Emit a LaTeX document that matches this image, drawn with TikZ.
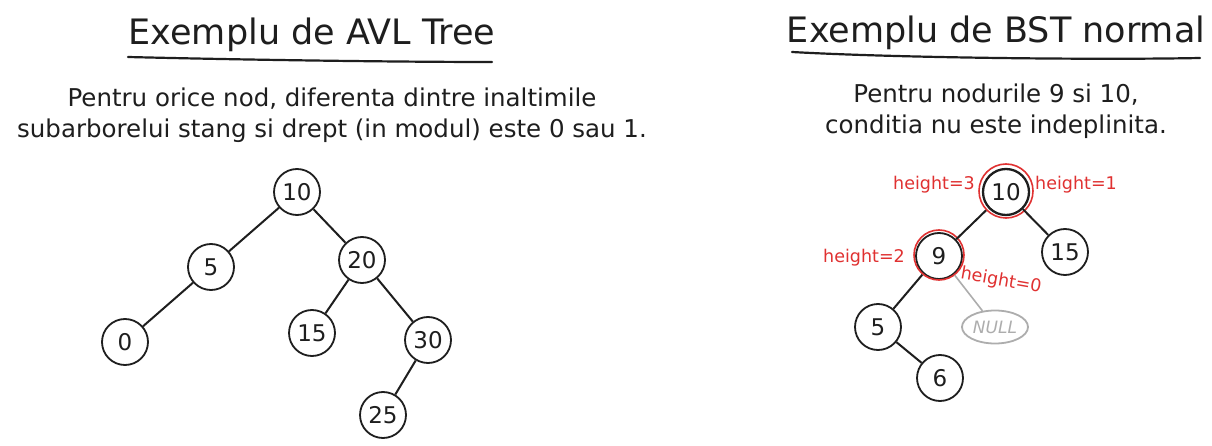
\documentclass[tikz,border=0pt]{standalone}
\usepackage{fontspec}
\usetikzlibrary{shapes.geometric}
\setmainfont{DejaVu Sans}
\definecolor{ink}{HTML}{1E1E1E}
\definecolor{exred}{HTML}{E03131}
\definecolor{nullgray}{HTML}{ADADAD}
\tikzset{
  treenode/.style={circle, draw=ink, line width=1.8pt, minimum size=46pt, inner sep=0pt, font=\fontsize{23}{25}\selectfont, text=ink},
  edge/.style={draw=ink, line width=2pt},
  nulledge/.style={draw=nullgray, line width=1.6pt},
  ringred/.style={circle, draw=exred, line width=1.6pt, inner sep=0pt},
  redlabel/.style={text=exred, font=\fontsize{17.5}{19}\selectfont, inner sep=1pt},
  titletext/.style={text=ink, font=\fontsize{35}{40}\selectfont},
  subtext/.style={text=ink, font=\fontsize{24.5}{31}\selectfont, align=center},
  underline/.style={draw=ink, line width=2.2pt, line cap=round},
  nullnode/.style={ellipse, draw=nullgray, line width=1.8pt, minimum width=66pt, minimum height=33pt, inner sep=0pt, text=nullgray, font=\fontsize{17}{19}\selectfont\itshape}
}
\begin{document}
\begin{tikzpicture}[x=1pt, y=-1pt]
\useasboundingbox (0,0) rectangle (1212,446);
\fill[white] (0,0) rectangle (1212,446);

% ---------- Left: AVL tree ----------
\node[titletext] (t1) at (312,35) {Exemplu de AVL Tree};
\coordinate (u1a) at (128,57);
\coordinate (u1b) at (492,62);
\draw[underline] (u1a) .. controls (250,60) and (400,62) .. (u1b);
\node[subtext] (s1) at (332,115) {Pentru orice nod, diferenta dintre inaltimile\\subarborelui stang si drept (in modul) este 0 sau 1.};

\node[treenode] (a10) at (297,192) {10};
\node[treenode] (a5) at (211,267) {5};
\node[treenode] (a20) at (362,260) {20};
\node[treenode] (a0) at (125,342) {0};
\node[treenode] (a15) at (312,333) {15};
\node[treenode] (a30) at (428,340) {30};
\node[treenode] (a25) at (383,415) {25};
\draw[edge] (a10) -- (a5);
\draw[edge] (a10) -- (a20);
\draw[edge] (a5) -- (a0);
\draw[edge] (a20) -- (a15);
\draw[edge] (a20) -- (a30);
\draw[edge] (a30) -- (a25);

% ---------- Right: normal BST ----------
\node[titletext] (t2) at (996,33) {Exemplu de BST normal};
\coordinate (u2a) at (792,52);
\coordinate (u2b) at (1200,58);
\draw[underline] (u2a) .. controls (900,58) and (1100,60) .. (u2b);
\node[subtext] (s2) at (996,111) {Pentru nodurile 9 si 10,\\conditia nu este indeplinita.};

\node[treenode, line width=2.3pt] (b10) at (1006,192) {10};
\node[ringred, minimum size=54pt] (r10) at (1006,191) {};
\node[treenode] (b9) at (939,256) {9};
\node[ringred, minimum size=50pt] (r9) at (939,255) {};
\node[treenode] (b15) at (1065,252) {15};
\node[treenode] (b5) at (878,327) {5};
\node[treenode] (b6) at (940,378) {6};
\node[nullnode] (bnull) at (995,327) {NULL};
\draw[edge] (r10) -- (b9);
\draw[edge] (b10) -- (b15);
\draw[edge] (r9) -- (b5);
\draw[nulledge] (r9) -- (bnull);
\draw[edge] (b5) -- (b6);

\node[redlabel, anchor=east] (h3) at (976,185) {height=3};
\node[redlabel, anchor=west] (h1) at (1034,185) {height=1};
\node[redlabel, anchor=east] (h2) at (906,258) {height=2};
\node[redlabel, rotate=-10] (h0) at (1001,281) {height=0};
\end{tikzpicture}
\end{document}
